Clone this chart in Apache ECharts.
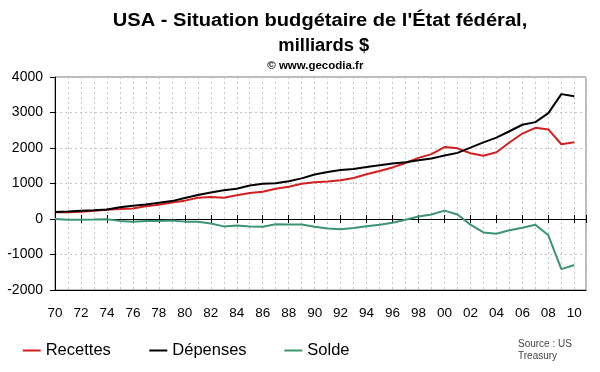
<!DOCTYPE html>
<html><head><meta charset="utf-8">
<script src="https://cdn.jsdelivr.net/npm/echarts@6/dist/echarts.min.js"></script>
<style>html,body{margin:0;padding:0;background:#fff}#c{width:600px;height:372px}</style>
</head><body><div id="c"></div>
<script>
const years = [1970,1971,1972,1973,1974,1975,1976,1977,1978,1979,1980,1981,1982,1983,1984,1985,1986,1987,1988,1989,1990,1991,1992,1993,1994,1995,1996,1997,1998,1999,2000,2001,2002,2003,2004,2005,2006,2007,2008,2009,2010];
const recettes = [193,187,207,231,263,279,298,356,400,463,517,599,618,601,666,734,769,854,909,991,1032,1055,1091,1154,1259,1352,1453,1579,1722,1828,2025,1991,1853,1782,1880,2154,2407,2568,2524,2105,2163];
const depenses = [196,210,231,246,269,332,372,409,459,504,591,678,746,808,852,946,990,1004,1064,1144,1253,1324,1382,1409,1462,1516,1561,1601,1653,1702,1789,1863,2011,2160,2293,2472,2655,2729,2983,3518,3456];
const solde = [-3,-23,-23,-15,-6,-53,-74,-54,-59,-41,-74,-79,-128,-208,-185,-212,-221,-150,-155,-153,-221,-269,-290,-255,-203,-164,-107,-22,69,126,236,128,-158,-378,-413,-318,-248,-161,-459,-1413,-1294];
const yMin = -2000, yMax = 4000, yStep = 1000;
const seriesNames = ['Recettes','Dépenses','Solde'];
const titleLines = ["USA - Situation budgétaire de l'État fédéral,", 'milliards $', '© www.gecodia.fr'];
const sourceText = 'Source : US\nTreasury';

const FF = '"Liberation Sans", Arial, sans-serif';
const colors = ['#d21f1f', '#000000', '#3c9471'];
const gridColor = '#c6c6c6';
const pair = arr => years.map((y, i) => [y, arr[i]]);

const chart = echarts.init(document.getElementById('c'), null, {renderer: 'canvas'});
const zeroAxis = (inside) => ({
  type: 'value', min: 1970, max: 2010.9, interval: 2, position: 'bottom',
  axisLine: {show: true, onZero: true, onZeroAxisIndex: 0, lineStyle: {color: '#000', width: 1}},
  axisTick: {show: true, inside: inside, length: 4, lineStyle: {color: '#000'}},
  axisLabel: {show: false}, splitLine: {show: false}
});
const legendItem = (name, left) => ({
  data: [name], left: left, top: 342, padding: 0, icon: 'rect', itemWidth: 18, itemHeight: 2,
  textStyle: {fontSize: 16.5, color: '#000', fontFamily: FF}, selectedMode: false
});
chart.setOption({
  animation: false,
  backgroundColor: '#fff',
  grid: {left: 55, right: 14, top: 77, bottom: 82, show: true, borderColor: '#777', borderWidth: 1, backgroundColor: 'transparent'},
  xAxis: [
    {
      type: 'value', min: 1970, max: 2010.9, interval: 1, position: 'bottom',
      axisLine: {show: true, onZero: false, lineStyle: {color: '#000'}},
      axisTick: {show: false},
      axisLabel: {
        fontSize: 13.5, color: '#000', fontFamily: FF, margin: 16, showMaxLabel: false,
        formatter: v => (Number.isInteger(v) && v % 2 === 0) ? String(v).slice(2) : ''
      },
      splitLine: {show: true, lineStyle: {color: gridColor, type: [2, 3], width: 1}}
    },
    zeroAxis(false),
    zeroAxis(true)
  ],
  yAxis: {
    type: 'value', min: yMin, max: yMax, interval: yStep,
    axisLine: {show: true, onZero: false, lineStyle: {color: '#000'}},
    axisTick: {show: true, length: 5, lineStyle: {color: '#000'}},
    axisLabel: {fontSize: 14, color: '#000', fontFamily: FF, margin: 12, formatter: v => String(v)},
    splitLine: {show: true, lineStyle: {color: gridColor, type: [2, 3], width: 1}}
  },
  legend: [legendItem(seriesNames[0], 22.7), legendItem(seriesNames[1], 149.3), legendItem(seriesNames[2], 284.3)],
  series: [
    {name: seriesNames[0], type: 'line', data: pair(recettes), symbol: 'none', lineStyle: {color: colors[0], width: 2}, itemStyle: {color: colors[0]}, z: 3},
    {name: seriesNames[1], type: 'line', data: pair(depenses), symbol: 'none', lineStyle: {color: colors[1], width: 2}, itemStyle: {color: colors[1]}, z: 4},
    {name: seriesNames[2], type: 'line', data: pair(solde), symbol: 'none', lineStyle: {color: colors[2], width: 2}, itemStyle: {color: colors[2]}, z: 3}
  ],
  graphic: [
    {type: 'text', x: 320, y: 20.7, scaleX: 1.075, style: {text: titleLines[0], font: 'bold 18.7px ' + FF, fill: '#000', align: 'center', verticalAlign: 'middle'}},
    {type: 'text', x: 323.8, y: 45.7, scaleX: 1.05, style: {text: titleLines[1], font: 'bold 17.5px ' + FF, fill: '#000', align: 'center', verticalAlign: 'middle'}},
    {type: 'text', x: 315.3, y: 65.7, scaleX: 1.075, style: {text: titleLines[2], font: 'bold 10.7px ' + FF, fill: '#000', align: 'center', verticalAlign: 'middle'}},
    {type: 'text', x: 518, y: 338, style: {text: sourceText, font: '10px ' + FF, fill: '#444', align: 'left', verticalAlign: 'top', lineHeight: 12}}
  ]
});
</script></body></html>
